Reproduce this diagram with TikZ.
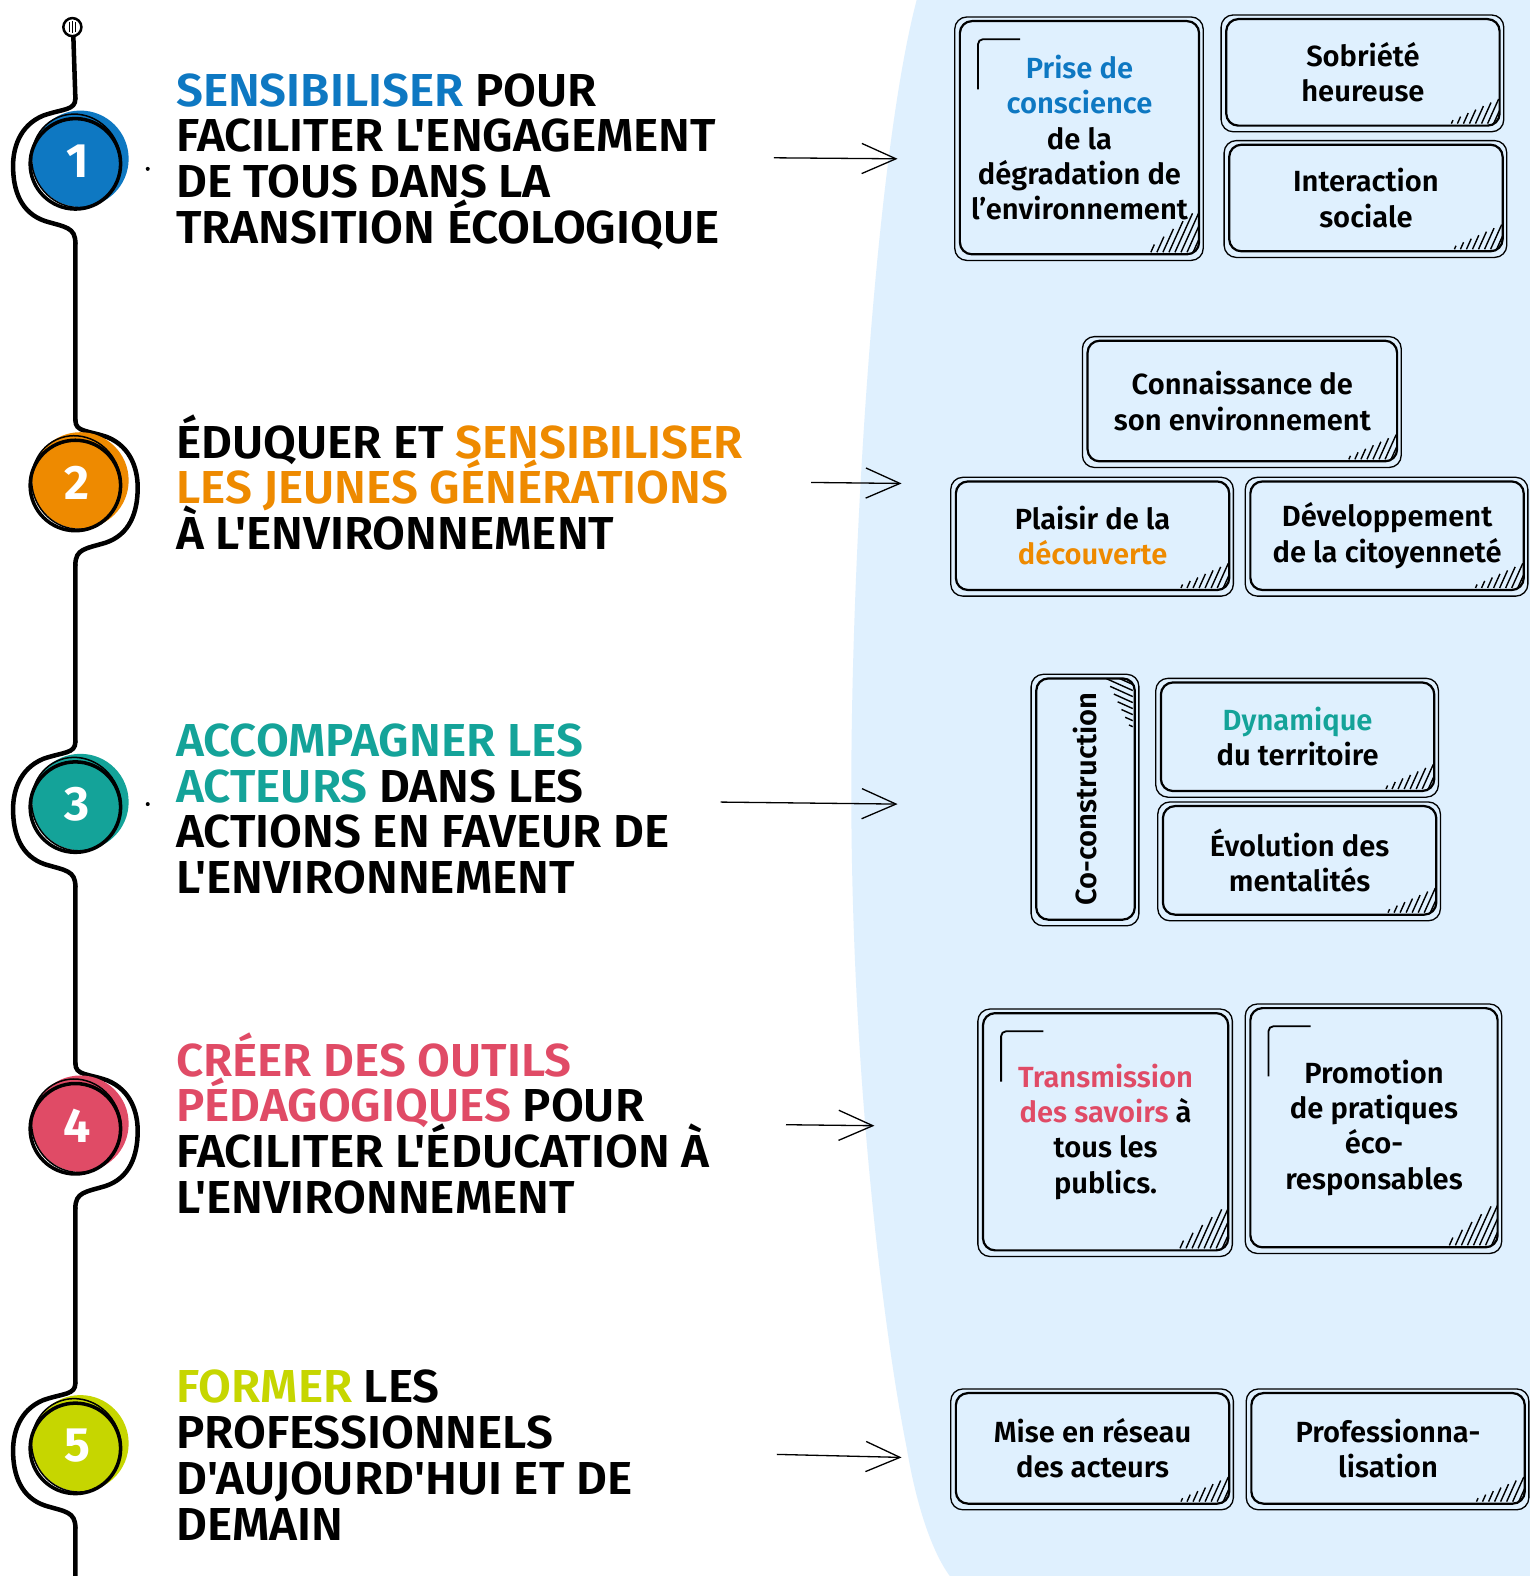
\documentclass[tikz,border=0pt]{standalone}
\usepackage{fontspec}
\setmainfont{Fira Sans}[BoldFont={Fira Sans SemiBold}]
\newfontfamily\headfont{Fira Sans SemiBold}[FakeStretch=1.03]
\newfontfamily\numfont{Fira Sans Bold}
\usetikzlibrary{arrows.meta}

\definecolor{cblue}{HTML}{0E78C2}
\definecolor{corange}{HTML}{EE8A00}
\definecolor{cteal}{HTML}{14A399}
\definecolor{cpink}{HTML}{E04B66}
\definecolor{clime}{HTML}{C6D600}
\definecolor{bgblue}{HTML}{DFF0FE}

\newcommand\tightlines{\lineskiplimit=-60pt\relax}
\newcommand\cornerhatch[1]{%
  \foreach \k in {0,...,7}
    \draw[line width=1.4pt]
      ([xshift={-6pt-6pt*\k}, yshift=2pt]path picture bounding box.south east)
      -- ++({0.45*#1*(1-\k/8)*1pt},{#1*(1-\k/8)*1pt});}
\newcommand\cornerhatchtop[1]{%
  \foreach \k in {0,...,7}
    \draw[line width=1.4pt]
      ([xshift=-2pt, yshift={-6pt-6pt*\k}]path picture bounding box.north east)
      -- ++({-#1*(1-\k/8)*1pt},{0.45*#1*(1-\k/8)*1pt});}
\newcommand\cornerbracket{%
  \draw[line width=1.8pt, rounded corners=5pt]
    ([shift={(18pt,-68pt)}]path picture bounding box.north west)
    |- ([shift={(60pt,-18pt)}]path picture bounding box.north west);}

\tikzset{
  tline/.style={line width=4.5pt, line cap=round},
  heading/.style={anchor=north west, align=left, inner sep=0pt,
    font=\headfont\fontsize{46}{45.5}\selectfont\tightlines},
  card/.style={draw, line width=2.2pt, rounded corners=12pt, fill=bgblue,
    align=center, inner sep=0pt, font=\bfseries\fontsize{29}{35}\selectfont,
    path picture={\cornerhatch{28}}},
  bigcard/.style={card, path picture={\cornerhatch{62}\cornerbracket}},
  tallcard/.style={card, path picture={\cornerhatchtop{30}}},
  arr/.style={line width=1.3pt, -{Straight Barb[length=34pt,width=30pt,line width=1.3pt]}}
}

\begin{document}
\begin{tikzpicture}[x=1pt,y=-1pt]
  \useasboundingbox (0,0) rectangle (1522,1568);
  \fill[white] (0,0) rectangle (1522,1568);
  \fill[bgblue] (912,0) .. controls (870,160) and (846,560) .. (847,800)
    .. controls (848,1080) and (880,1330) .. (902,1440)
    .. controls (912,1500) and (928,1545) .. (945,1568)
    -- (1522,1568) -- (1522,0) -- cycle;

  % timeline
  \draw[line width=2.5pt] (72,27) circle[radius=9pt];
  \draw[line width=1pt] (69,22) -- (69,32) (72,21) -- (72,33) (75,22) -- (75,32);
  \draw[tline] (73,37) -- (75,98) (75,242) -- (75,418) (75,562) -- (75,738)
    (75,882) -- (75,1058) (75,1202) -- (75,1376) (75,1520) -- (75,1568);
  \foreach \cy/\col/\n/\s in {160/cblue/1/1,480/corange/2/-1,800/cteal/3/1,1120/cpink/4/-1,1438/clime/5/1}{
    \draw[tline] (75,\cy-62) .. controls (75,\cy-50) and ({75-(\s)*12},\cy-52) .. ({75-(\s)*32},\cy-45)
      .. controls ({75-(\s)*56},\cy-35) and ({75-(\s)*62},\cy-12) .. ({75-(\s)*62},\cy+5)
      .. controls ({75-(\s)*62},\cy+30) and ({75-(\s)*54},\cy+52) .. ({75-(\s)*30},\cy+60)
      .. controls ({75-(\s)*10},\cy+66) and (75,\cy+66) .. (75,\cy+82);
    \fill[\col] (80,\cy-2) circle[radius=48pt];
    \draw[line width=3.5pt] (75,\cy+3) circle[radius=45pt];
    \draw[line width=1.5pt, rotate around={25:(76,\cy)}] (76,\cy) ellipse[x radius=44pt, y radius=47pt];
    \node[font=\numfont\fontsize{48}{48}\selectfont, white] (n\n) at (77,\cy) {\n};
  }
  \fill (147,168) circle[radius=2pt];
  \fill (147,800) circle[radius=2pt];

  % headings
  \node[heading] (h1) at (175,62) {\vphantom{É}{\color{cblue}SENSIBILISER} POUR\\FACILITER L'ENGAGEMENT\\DE TOUS DANS LA\\TRANSITION ÉCOLOGIQUE};
  \node[heading] (h2) at (175,412) {ÉDUQUER ET {\color{corange}SENSIBILISER}\\{\color{corange}LES JEUNES GÉNÉRATIONS}\\À L'ENVIRONNEMENT};
  \node[heading] (h3) at (175,709) {\vphantom{É}{\color{cteal}ACCOMPAGNER LES}\\{\color{cteal}ACTEURS} DANS LES\\ACTIONS EN FAVEUR DE\\L'ENVIRONNEMENT};
  \node[heading] (h4) at (175,1027) {{\color{cpink}CRÉER DES OUTILS}\\{\color{cpink}PÉDAGOGIQUES} POUR\\FACILITER L'ÉDUCATION À\\L'ENVIRONNEMENT};
  \node[heading] (h5) at (175,1352) {\vphantom{É}{\color{clime}FORMER} LES\\PROFESSIONNELS\\D'AUJOURD'HUI ET DE\\DEMAIN};

  % cards
  \node[bigcard, minimum width=238pt, minimum height=232pt] (c11) at (1074,137)
    {\textcolor{cblue}{Prise de}\\\textcolor{cblue}{conscience}\\de la\\dégradation de\\l'environnement};
  \node[card, minimum width=272pt, minimum height=106pt] (c12) at (1356,72) {Sobriété\\heureuse};
  \node[card, minimum width=272pt, minimum height=106pt] (c13) at (1359,197) {Interaction\\sociale};
  \node[card, minimum width=308pt, minimum height=120pt] (c21) at (1236,399) {Connaissance de\\son environnement};
  \node[card, minimum width=272pt, minimum height=108pt] (c22) at (1087,533) {Plaisir de la\\\textcolor{corange}{découverte}};
  \node[card, minimum width=272pt, minimum height=108pt] (c23) at (1380,533) {Développement\\de la citoyenneté};
  \node[tallcard, minimum width=98pt, minimum height=240pt] (c31) at (1080,795) {\rotatebox{90}{Co-construction}};
  \node[card, minimum width=272pt, minimum height=108pt] (c32) at (1291,733) {\textcolor{cteal}{Dynamique}\\du territoire};
  \node[card, minimum width=272pt, minimum height=108pt] (c33) at (1293,856) {Évolution des\\mentalités};
  \node[bigcard, minimum width=244pt, minimum height=236pt] (c41) at (1100,1126)
    {\textcolor{cpink}{Transmission}\\\textcolor{cpink}{des savoirs} à\\tous les\\publics.};
  \node[bigcard, minimum width=246pt, minimum height=238pt] (c42) at (1367,1122)
    {Promotion\\de pratiques\\éco-\\responsables};
  \node[card, minimum width=272pt, minimum height=110pt] (c51) at (1087,1441) {Mise en réseau\\des acteurs};
  \node[card, minimum width=272pt, minimum height=110pt] (c52) at (1381,1441) {Professionna-\\lisation};
  \foreach \c in {c11,c12,c13,c21,c22,c23,c31,c32,c33,c41,c42,c51,c52}
    \draw[line width=1.3pt, rounded corners=12pt] ([shift={(-4pt,3pt)}]\c.north west) rectangle ([shift={(3pt,-5pt)}]\c.south east);

  % arrows
  \coordinate (a1) at (770,157);  \coordinate (b1) at (893,158);
  \coordinate (a2) at (807,480);  \coordinate (b2) at (897,481);
  \coordinate (a3) at (717,798);  \coordinate (b3) at (893,800);
  \coordinate (a4) at (782,1119); \coordinate (b4) at (870,1120);
  \coordinate (a5) at (773,1447); \coordinate (b5) at (897,1450);
  \foreach \i in {1,...,5}
    \draw[arr] (a\i) -- (b\i);
\end{tikzpicture}
\end{document}
